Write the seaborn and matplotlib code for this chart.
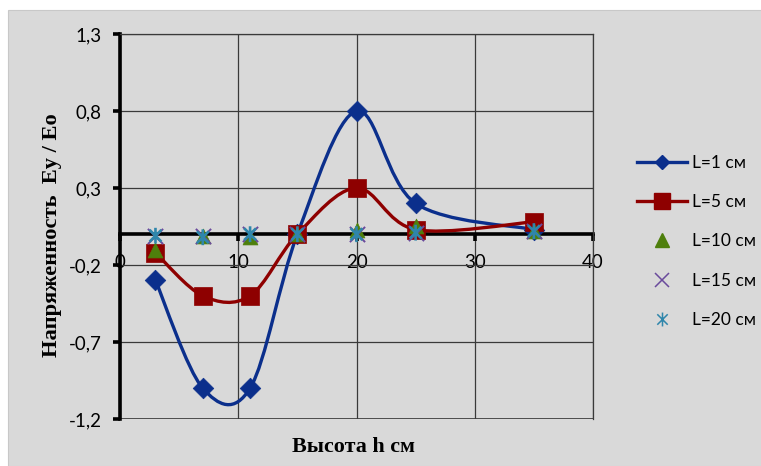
import numpy as np
import pandas as pd
import matplotlib
matplotlib.use('Agg')
from matplotlib import pyplot as plt
from matplotlib.path import Path
from matplotlib.patches import PathPatch, Rectangle
from matplotlib.lines import Line2D
from matplotlib.ticker import FuncFormatter
import seaborn as sns

# heights (cm) and field ratios for each source distance L
h = [3, 7, 11, 15, 20, 25, 35]
ey_l1 = [-0.30, -1.00, -1.00, 0.00, 0.80, 0.20, 0.03]
ey_l5 = [-0.12, -0.40, -0.40, 0.00, 0.30, 0.03, 0.08]
ey_l10 = [-0.10, -0.01, -0.02, 0.00, 0.03, 0.05, 0.02]
ey_l15 = [-0.01, -0.01, 0.00, 0.00, 0.00, 0.01, 0.02]
ey_l20 = [-0.01, -0.02, 0.00, 0.00, 0.00, 0.01, 0.02]

labels = ['L=1 см', 'L=5 см', 'L=10 см', 'L=15 см', 'L=20 см']
yticks = [-1.2, -0.7, -0.2, 0.3, 0.8, 1.3]
xticks = [0, 10, 20, 30, 40]

df = pd.DataFrame({
    'h': h * 5,
    'ey': ey_l1 + ey_l5 + ey_l10 + ey_l15 + ey_l20,
    'series': sum([[lab] * len(h) for lab in labels], []),
})

# excel-ish asterisk marker
star = Path([(0, -1), (0, 1), (-0.75, -0.75), (0.75, 0.75), (-0.75, 0.75), (0.75, -0.75)],
            [Path.MOVETO, Path.LINETO, Path.MOVETO, Path.LINETO, Path.MOVETO, Path.LINETO])

style = {
    'L=1 см': dict(color='#0b2f8c', marker='D', s=110, smooth=True),
    'L=5 см': dict(color='#8e0000', marker='s', s=155, smooth=True),
    'L=10 см': dict(color='#4e7f0c', marker='^', s=115, smooth=False),
    'L=15 см': dict(color='#6a4a9c', marker='x', s=120, smooth=False),
    'L=20 см': dict(color='#2f86ab', marker=star, s=130, smooth=False),
}


def smooth_path(xs, ys):
    # bezier segments like excel's "smoothed line"
    pts = np.column_stack([xs, ys]).astype(float)
    ext = np.vstack([pts[0], pts, pts[-1]])
    verts = [tuple(pts[0])]
    codes = [Path.MOVETO]
    for i in range(1, len(ext) - 2):
        p0, p1, p2, p3 = ext[i - 1], ext[i], ext[i + 1], ext[i + 2]
        c1 = p1 + (p2 - p0) / 6.0
        c2 = p2 - (p3 - p1) / 6.0
        verts += [tuple(c1), tuple(c2), tuple(p2)]
        codes += [Path.CURVE4] * 3
    return Path(verts, codes)


fig = plt.figure(figsize=(7.61, 4.66), dpi=100)
fig.patch.set_facecolor('white')
fig.patches.append(Rectangle((8 / 761, 0), 1, 1 - 10 / 466, transform=fig.transFigure,
                             facecolor='#d9d9d9', edgecolor='#c8c8c8', lw=0.8, zorder=-10))

ax = fig.add_axes([120 / 761, 1 - 419 / 466, (593 - 120) / 761, (419 - 34) / 466])
ax.set_facecolor('#d9d9d9')

for lab in labels:
    st = style[lab]
    sub = df[df.series == lab]
    if st['smooth']:
        ax.add_patch(PathPatch(smooth_path(sub.h.values, sub.ey.values), fill=False,
                               edgecolor=st['color'], lw=2.4, zorder=3, capstyle='round'))
    if st['marker'] in ('x',):
        sns.scatterplot(x=sub.h, y=sub.ey, marker='x', color=st['color'], s=st['s'],
                        linewidth=1.4, ax=ax, zorder=5)
    elif isinstance(st['marker'], Path):
        sns.scatterplot(x=sub.h, y=sub.ey, marker=st['marker'], facecolor='none',
                        edgecolor=st['color'], s=st['s'], linewidth=1.9, ax=ax, zorder=6)
    else:
        sns.scatterplot(x=sub.h, y=sub.ey, marker=st['marker'], color=st['color'],
                        edgecolor=st['color'], s=st['s'], linewidth=0.5, ax=ax, zorder=4)

ax.set_xlim(0, 40)
ax.set_ylim(-1.2, 1.3)
ax.set_xticks(xticks)
ax.set_yticks(yticks)
ax.grid(True, color='#3a3a3a', lw=0.9, zorder=0)
ax.set_axisbelow(True)

for side in ['top', 'right']:
    ax.spines[side].set_visible(True)
    ax.spines[side].set_color('#3a3a3a')
    ax.spines[side].set_linewidth(0.9)
ax.spines['left'].set_linewidth(2.6)
ax.spines['left'].set_color('black')
ax.spines['bottom'].set_position(('data', 0))
ax.spines['bottom'].set_linewidth(2.6)
ax.spines['bottom'].set_color('black')
ax.spines['bottom'].set_zorder(2)
ax.axhline(-1.2, color='#3a3a3a', lw=1.2, zorder=0)

fmt = FuncFormatter(lambda v, p: ('%g' % round(v, 1)).replace('.', ','))
ax.yaxis.set_major_formatter(fmt)
ax.tick_params(axis='y', direction='out', length=5, width=2.6, pad=8, labelsize=13.5)
ax.tick_params(axis='x', direction='out', length=5, width=2.6, pad=9, labelsize=13.5)
for t in ax.get_xticklabels() + ax.get_yticklabels():
    t.set_fontfamily('Lato')

ax.set_xlabel('')
ax.set_ylabel('')
fig.text(354 / 761, 1 - 447 / 466, 'Высота h см', ha='center', va='center',
         family='Liberation Serif', weight='bold', fontsize=15.8)
fig.text(52 / 761, 1 - 235 / 466, 'Напряженность  Ey / Eo', ha='center', va='center',
         rotation=90, family='Liberation Serif', weight='bold', fontsize=16.2)

handles = [
    Line2D([], [], color=style['L=1 см']['color'], lw=2.4, marker='D', markersize=7.5),
    Line2D([], [], color=style['L=5 см']['color'], lw=2.4, marker='s', markersize=11),
    Line2D([], [], color=style['L=10 см']['color'], lw=0, marker='^', markersize=10),
    Line2D([], [], color=style['L=15 см']['color'], lw=0, marker='x', markersize=10, markeredgewidth=1.1),
    Line2D([], [], color=style['L=20 см']['color'], lw=0, marker=star, markersize=10,
           markeredgewidth=1.1, markerfacecolor='none'),
]
leg = fig.legend(handles, labels, loc='center left', bbox_to_anchor=(637 / 761, 1 - 241.5 / 466),
                 frameon=False, handlelength=2.9, handletextpad=0.25,
                 labelspacing=1.35, borderpad=0, borderaxespad=0,
                 prop={'family': 'Lato', 'size': 12.5})

fig.savefig('out.png', dpi=100)
